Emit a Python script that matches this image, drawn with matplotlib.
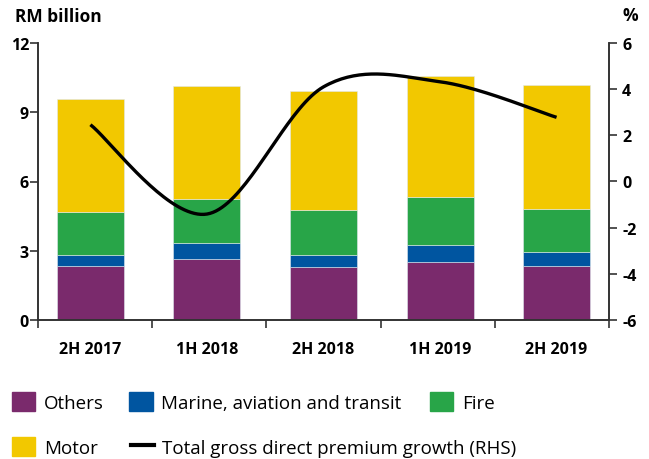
import numpy as np
import matplotlib.pyplot as plt
from matplotlib.patches import Patch
from matplotlib.lines import Line2D

plt.rcParams['font.family'] = ['Open Sans', 'DejaVu Sans']
plt.rcParams['axes.unicode_minus'] = False

# data
periods = ['2H 2017', '1H 2018', '2H 2018', '1H 2019', '2H 2019']
others = [2.35, 2.64, 2.28, 2.50, 2.35]
marine = [0.48, 0.71, 0.55, 0.76, 0.58]
fire = [1.86, 1.89, 1.94, 2.06, 1.88]
motor = [4.89, 4.88, 5.15, 5.24, 5.39]
growth = [2.46, -1.41, 4.10, 4.32, 2.78]

colors = {
    'Others': '#7A2A6C',
    'Marine': '#0055A0',
    'Fire': '#28A548',
    'Motor': '#F2C800',
}


def smooth_curve(x, y, n=40):
    # Excel-style smoothed line: cubic Bezier with Catmull-Rom control points
    x = np.asarray(x, float)
    y = np.asarray(y, float)
    px = np.concatenate([[x[0]], x, [x[-1]]])
    py = np.concatenate([[y[0]], y, [y[-1]]])
    t = np.linspace(0, 1, n)[:, None]
    xs, ys = [], []
    for i in range(1, len(px) - 2):
        p0 = np.array([px[i], py[i]])
        p3 = np.array([px[i + 1], py[i + 1]])
        c1 = p0 + (p3 - np.array([px[i - 1], py[i - 1]])) / 6
        c2 = p3 - (np.array([px[i + 2], py[i + 2]]) - p0) / 6
        b = ((1 - t) ** 3 * p0 + 3 * (1 - t) ** 2 * t * c1
             + 3 * (1 - t) * t ** 2 * c2 + t ** 3 * p3)
        xs.append(b[:, 0])
        ys.append(b[:, 1])
    return np.concatenate(xs), np.concatenate(ys)


fig = plt.figure(figsize=(6.49, 4.60), dpi=100)
ax = fig.add_axes([38 / 649, 1 - 321 / 460, (609 - 38) / 649, (321 - 44) / 460])
ax2 = ax.twinx()

x = np.arange(len(periods))
w = 0.575
bottom = np.zeros(len(periods))
for name, vals in [('Others', others), ('Marine', marine),
                   ('Fire', fire), ('Motor', motor)]:
    ax.bar(x, vals, w, bottom=bottom, color=colors[name],
           edgecolor='#dfe8ee', linewidth=0.4)
    bottom += np.array(vals)

sx, sy = smooth_curve(x, growth)
ax2.plot(sx, sy, color='black', lw=2.4, solid_capstyle='butt')

xlo, xhi = -0.45, 4.45
ax.set_xlim(xlo, xhi)
ax.set_ylim(0, 12)
ax2.set_ylim(-6, 6)
ax.set_yticks([0, 3, 6, 9, 12])
ax2.set_yticks([-6, -4, -2, 0, 2, 4, 6])

ax.set_xticks(np.linspace(xlo, xhi, 6))
ax.set_xticklabels([])
ax.set_xticks(x, minor=True)
ax.set_xticklabels(periods, minor=True, fontweight='bold', fontsize=11.5)
ax.tick_params(axis='x', which='major', length=6, width=1.2, color='#333333')
ax.tick_params(axis='x', which='minor', length=0, pad=15)

ax.tick_params(axis='y', length=6, width=1.2, pad=0.5, labelsize=11.5,
               color='#333333')
ax2.tick_params(axis='y', length=6, width=1.2, pad=3.5, labelsize=11.5,
                color='#333333')
for lab in ax.get_yticklabels() + ax2.get_yticklabels():
    lab.set_fontweight('bold')

for a in (ax, ax2):
    a.spines['top'].set_visible(False)
    for s in ('left', 'right', 'bottom'):
        a.spines[s].set_linewidth(1.2)
        a.spines[s].set_color('#333333')

fig.text(15 / 649, 1 - 17 / 460, 'RM billion', fontsize=12.5,
         fontweight='bold', va='center', ha='left')
fig.text(630 / 649, 1 - 16 / 460, '%', fontsize=12.5,
         fontweight='bold', va='center', ha='center')

leg_kw = dict(frameon=False, fontsize=13.5, handlelength=1.25, handleheight=1.15,
              handletextpad=0.45, borderpad=0, borderaxespad=0)
row1 = [Patch(color=colors['Others'], label='Others'),
        Patch(color=colors['Marine'], label='Marine, aviation and transit')]
row1b = [Patch(color=colors['Fire'], label='Fire')]
row2 = [Patch(color=colors['Motor'], label='Motor'),
        Line2D([], [], color='black', lw=3, label='Total gross direct premium growth (RHS)')]
fig.legend(handles=row1, ncol=2, loc='center left',
           bbox_to_anchor=(12 / 649, 1 - 403 / 460), columnspacing=1.35, **leg_kw)
fig.legend(handles=row1b, ncol=1, loc='center left',
           bbox_to_anchor=(430 / 649, 1 - 403 / 460), **leg_kw)
fig.legend(handles=row2, ncol=2, loc='center left',
           bbox_to_anchor=(12 / 649, 1 - 448 / 460), columnspacing=1.75, **leg_kw)

fig.savefig('out.png', dpi=100)
